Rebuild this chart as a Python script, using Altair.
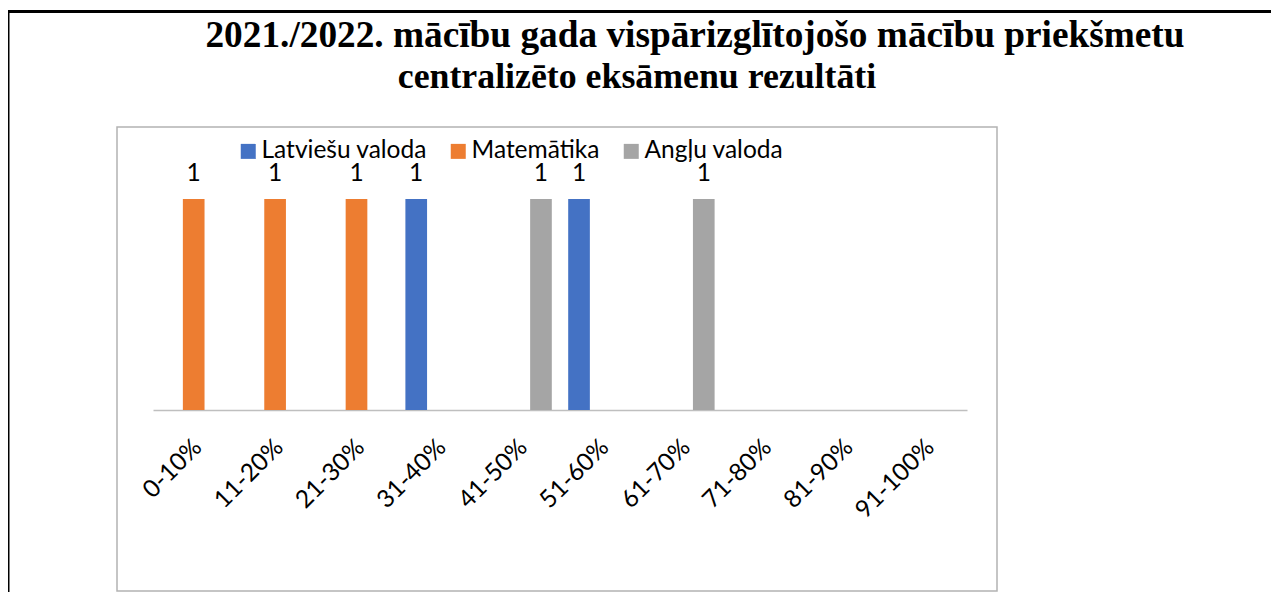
import altair as alt
import pandas as pd

categories = ["0-10%", "11-20%", "21-30%", "31-40%", "41-50%",
              "51-60%", "61-70%", "71-80%", "81-90%", "91-100%"]
series = ["Latviešu valoda", "Matemātika", "Angļu valoda"]
latviesu = [None, None, None, 1, None, 1, None, None, None, None]
matematika = [1, 1, 1, None, None, None, None, None, None, None]
anglu = [None, None, None, None, 1, None, 1, None, None, None]
colors = ["#4472C4", "#ED7D31", "#A5A5A5"]
title_line1 = "2021./2022. mācību gada vispārizglītojošo mācību priekšmetu"
title_line2 = "centralizēto eksāmenu rezultāti"

rows = []
for s, vals in zip(series, [latviesu, matematika, anglu]):
    for c, v in zip(categories, vals):
        if v is not None:
            rows.append({"kategorija": c, "priekšmets": s, "skaits": v})
df = pd.DataFrame(rows)
one = pd.DataFrame({"k": [0]})

LABEL_FONT = "Lato"
FS = 24.5

x_enc = alt.X(
    "kategorija:N", sort=categories,
    scale=alt.Scale(domain=categories, paddingInner=0, paddingOuter=0),
    axis=alt.Axis(title=None, labelAngle=-45, labelAlign="right", labelBaseline="top",
                  labelPadding=25, labelOffset=-4, labelFont=LABEL_FONT, labelFontSize=FS,
                  labelColor="#000000", domainColor="#bfbfbf", domainWidth=1.5,
                  ticks=False, grid=False, labelOverlap=False),
)
xo_enc = alt.XOffset("priekšmets:N", sort=series,
                     scale=alt.Scale(domain=series, paddingInner=0, paddingOuter=0.378))
y_enc = alt.Y("skaits:Q", scale=alt.Scale(domain=[0, 1], nice=False), axis=None)

bars = alt.Chart(df).mark_bar().encode(
    x=x_enc, xOffset=xo_enc, y=y_enc,
    color=alt.Color(
        "priekšmets:N", sort=series,
        scale=alt.Scale(domain=series, range=colors),
        legend=alt.Legend(orient="none", legendX=83, legendY=-60, direction="horizontal",
                          title=None, symbolType="square", symbolSize=225,
                          symbolStrokeWidth=0, labelFont=LABEL_FONT, labelFontSize=FS,
                          labelLimit=400, labelColor="#000000", columnPadding=19,
                          labelOffset=1),
    ),
)

labels = alt.Chart(df).mark_text(
    font=LABEL_FONT, fontSize=FS, baseline="alphabetic", dy=-18, color="#000000"
).encode(x=x_enc, xOffset=xo_enc, y=y_enc, text=alt.Text("skaits:Q"))

inner_box = alt.Chart(one).mark_rect(fill=None, stroke="#b3b3b3", strokeWidth=1.5).encode(
    x=alt.value(-36), x2=alt.value(844), y=alt.value(-72), y2=alt.value(392)
)
border_top = alt.Chart(one).mark_rule(color="black", strokeWidth=3).encode(
    x=alt.value(-145), x2=alt.value(1118), y=alt.value(-187.5), y2=alt.value(-187.5)
)
border_left = alt.Chart(one).mark_rule(color="black", strokeWidth=3).encode(
    x=alt.value(-145), x2=alt.value(-145), y=alt.value(-189), y2=alt.value(393)
)
t1 = alt.Chart(one).mark_text(
    text=title_line1, font="Liberation Serif", fontSize=37.3, fontWeight="bold",
    align="center", baseline="alphabetic", color="#000000"
).encode(x=alt.value(542), y=alt.value(-152))
t2 = alt.Chart(one).mark_text(
    text=title_line2, font="Liberation Serif", fontSize=35.8, fontWeight="bold",
    align="center", baseline="alphabetic", color="#000000"
).encode(x=alt.value(484), y=alt.value(-111.5))

chart = alt.layer(inner_box, border_top, border_left, t1, t2, bars, labels).properties(
    width=814, height=211,
    autosize=alt.AutoSizeParams(type="none"),
    padding={"left": 145, "top": 191, "right": 304, "bottom": 182},
    background="white",
).configure_view(stroke=None)

chart.save("out.html", embed_options={"renderer": "svg", "actions": False})
